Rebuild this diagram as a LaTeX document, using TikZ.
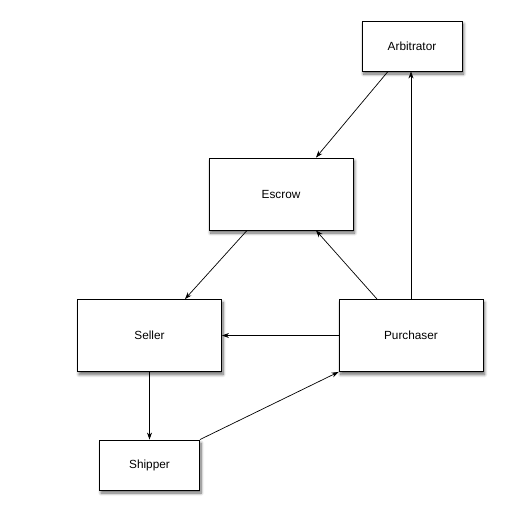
\documentclass[tikz,border=0pt]{standalone}
\usepackage{fontspec}
\setmainfont{Liberation Sans}
\usetikzlibrary{arrows.meta,shadows.blur}
\begin{document}
\begin{tikzpicture}[x=1pt,y=-1pt,
  box/.style={draw=black,line width=0.9pt,fill=white,inner sep=0pt,
    font=\fontsize{11.8}{13}\selectfont,
    blur shadow={shadow blur steps=8,shadow xshift=1.5pt,shadow yshift=-3pt,shadow opacity=60,shadow blur radius=3pt}},
  big/.style={box,minimum width=144pt,minimum height=72pt},
  small/.style={box,minimum width=100pt,minimum height=50pt},
  link/.style={line width=0.7pt,-{Stealth[length=7pt,width=5pt]}}]
\useasboundingbox (0,0) rectangle (508,522);
\node[small] (arb) at (412,46) {Arbitrator};
\node[big] (escrow) at (281,194) {Escrow};
\node[big] (seller) at (149.5,335.5) {Seller};
\node[big] (purch) at (411,335.5) {Purchaser};
\node[small] (ship) at (149.5,465) {Shipper};
\draw[link] ([xshift=-24pt]arb.south) -- ([xshift=35pt]escrow.north);
\draw[link] ([xshift=-34pt]escrow.south) -- ([xshift=35.5pt]seller.north);
\draw[link] ([xshift=-34pt]purch.north) -- ([xshift=35pt]escrow.south);
\draw[link] (purch.north) -- (purch.north |- arb.south);
\draw[link] (purch.west) -- (seller.east);
\draw[link] (seller.south) -- (ship.north);
\draw[link] (ship.north east) -- (purch.south west);
\end{tikzpicture}
\end{document}
